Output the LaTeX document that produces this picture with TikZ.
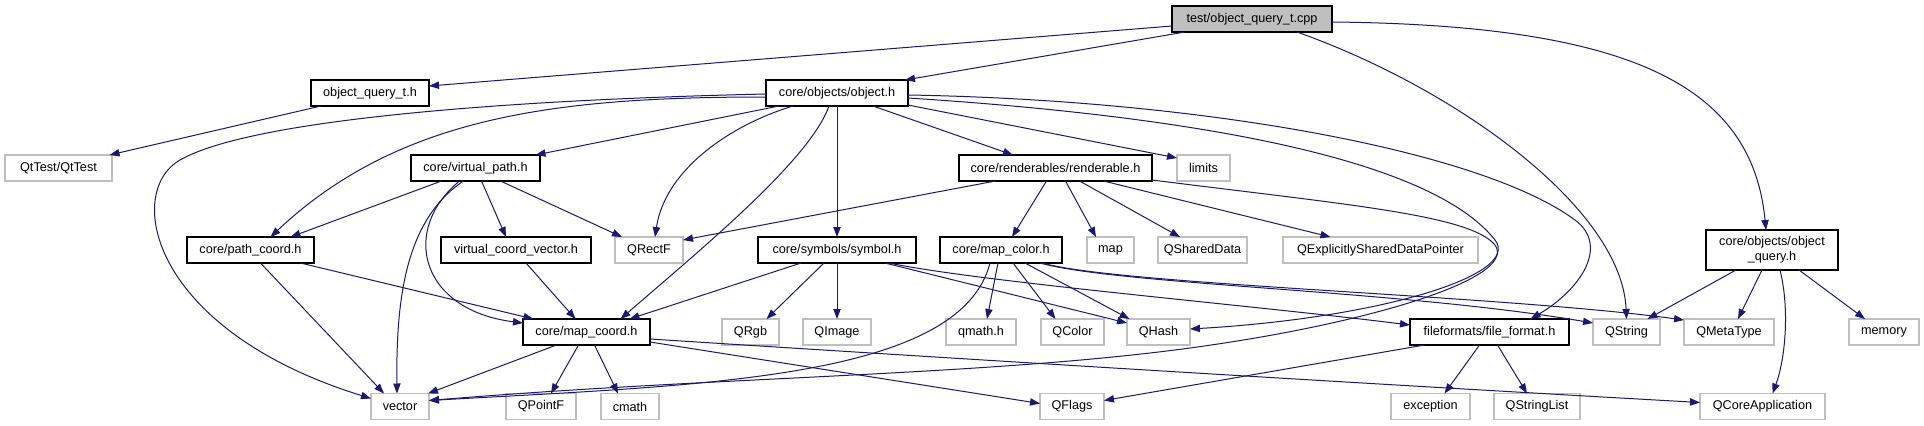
\documentclass[tikz,border=0pt]{standalone}
\usepackage{fontspec}
\setmainfont{Liberation Sans}
\usetikzlibrary{arrows.meta,calc}
\definecolor{edgeblue}{RGB}{25,25,112}
\definecolor{boxgray}{RGB}{191,191,191}

\begin{document}
\begin{tikzpicture}[x=0.75pt, y=-0.75pt,
    hdr/.style={draw=black, line width=0.8pt, minimum width=#1*0.75pt,
      minimum height=19.5pt, inner sep=0pt, font=\fontsize{9.5}{11.5}\selectfont},
    sys/.style={hdr=#1, draw=boxgray},
    root/.style={hdr=#1, fill=boxgray},
    inc/.style={edgeblue, line width=0.75pt, -{Triangle[length=7.5pt,width=5.5pt]}}]
  \useasboundingbox (0,0) rectangle (1924,425);
  % Row 0: the file itself
  \node[root=160] (cpp) at (1252,19) {test/object\_query\_t.cpp};
  % Row 1
  \node[hdr=118] (oqt)  at (370,93)  {object\_query\_t.h};
  \node[hdr=142] (objh) at (837,93)  {core/objects/object.h};
  % Row 2
  \node[sys=107] (qttest) at (58.5,168)   {QtTest/QtTest};
  \node[hdr=129] (vpath)  at (475.5,168)  {core/virtual\_path.h};
  \node[hdr=193] (rend)   at (1055.5,168) {core/renderables/renderable.h};
  \node[sys=53]  (limits) at (1203.5,168) {limits};
  % Row 3
  \node[hdr=127] (pcoord)  at (250.5,250)  {core/path\_coord.h};
  \node[hdr=150] (vcv)     at (516,250)    {virtual\_coord\_vector.h};
  \node[sys=68]  (qrectf)  at (649,250)    {QRectF};
  \node[hdr=158] (symh)    at (837,250)    {core/symbols/symbol.h};
  \node[hdr=122] (mcolor)  at (1001,250)   {core/map\_color.h};
  \node[sys=47]  (map)     at (1110.5,250) {map};
  \node[sys=89]  (qshared) at (1202.5,250) {QSharedData};
  \node[sys=195] (qexpl)   at (1380.5,250) {QExplicitlySharedDataPointer};
  \node[hdr=132, minimum height=30pt, align=center] (oqh) at (1772,250)
    {core/objects/object\\\_query.h};
  % Row 4
  \node[hdr=127] (mcoord)  at (586.5,332)  {core/map\_coord.h};
  \node[sys=57]  (qrgb)    at (750.5,332)  {QRgb};
  \node[sys=68]  (qimage)  at (837,332)    {QImage};
  \node[sys=70]  (qmath)   at (981,332)    {qmath.h};
  \node[sys=63]  (qcolor)  at (1072.5,332) {QColor};
  \node[sys=63]  (qhash)   at (1158.5,332) {QHash};
  \node[hdr=159] (ffmt)    at (1489.5,332) {fileformats/file\_format.h};
  \node[sys=67]  (qstring) at (1626.5,332) {QString};
  \node[sys=90]  (qmeta)   at (1729,332)   {QMetaType};
  \node[sys=70]  (memory)  at (1884,332)   {memory};
  % Row 5
  \node[sys=58]  (vector)    at (400,406.5)    {vector};
  \node[sys=70]  (qpointf)   at (541,406.5)    {QPointF};
  \node[sys=58]  (cmath)     at (630,406.5)    {cmath};
  \node[sys=64]  (qflags)    at (1072,406.5)   {QFlags};
  \node[sys=79]  (exception) at (1430.5,406.5) {exception};
  \node[sys=86]  (qslist)    at (1537,406.5)   {QStringList};
  \node[sys=125] (qcore)     at (1762.5,406.5) {QCoreApplication};

  % includes of the test file
  \draw[inc] ($(cpp)+(-80,7)$) -- ($(oqt)+(59,-7)$);
  \draw[inc] ($(cpp)+(-67,13)$) -- ($(objh)+(68,-13)$);
  \draw[inc] ($(cpp)+(45,13)$) .. controls (1460,90) and (1622,210) .. ($(qstring)+(0,-13)$);
  \draw[inc] ($(cpp)+(80,3)$) .. controls (1630,25) and (1752,85) .. ($(oqh)+(-6,-20)$);
  \draw[inc] ($(oqt)+(-49,13)$) -- ($(qttest)+(51,-13)$);

  % object.h
  \draw[inc] ($(objh)+(-58,13)$) -- ($(vpath)+(60,-13)$);
  \draw[inc] ($(objh)+(-71,4)$) .. controls (560,97) and (400,115) .. ($(pcoord)+(20,-13)$);
  \draw[inc] ($(objh)+(-71,1)$) .. controls (500,100) and (250,120) .. (180,160)
    .. controls (124,192) and (150,330) .. ($(vector)+(-29,-8)$);
  \draw[inc] ($(objh)+(-44,13)$) .. controls (730,125) and (665,170) .. ($(qrectf)+(6,-13)$);
  \draw[inc] ($(objh)+(-8,13)$) .. controls (810,160) and (700,250) .. ($(mcoord)+(34,-13)$);
  \draw[inc] ($(objh)+(0,13)$) -- ($(symh)+(0,-13)$);
  \draw[inc] ($(objh)+(36,13)$) -- ($(rend)+(-42.5,-13)$);
  \draw[inc] ($(objh)+(71,12)$) -- ($(limits)+(-26.5,-10)$);
  \draw[inc] ($(objh)+(71,2)$) .. controls (1200,100) and (1480,150) .. (1575,220)
    .. controls (1610,246) and (1580,290) .. ($(ffmt)+(41,-13)$);
  \draw[inc] ($(objh)+(71,5)$) .. controls (1250,120) and (1440,170) .. (1495,240)
    .. controls (1522,275) and (1380,318) .. ($(qhash)+(31.5,-3)$);

  % renderable.h
  \draw[inc] ($(rend)+(96.5,12)$) .. controls (1350,205) and (1470,215) .. (1495,245)
    .. controls (1520,280) and (1350,330) .. (1150,353)
    .. controls (950,376) and (700,378) .. ($(vector)+(29,-6)$);
  \draw[inc] ($(rend)+(-60,13)$) -- ($(qrectf)+(34,-10)$);
  \draw[inc] ($(rend)+(-9,13)$) -- ($(mcolor)+(11,-13)$);
  \draw[inc] ($(rend)+(10,13)$) -- ($(map)+(-14.5,-13)$);
  \draw[inc] ($(rend)+(24,13)$) -- ($(qshared)+(-22.5,-13)$);
  \draw[inc] ($(rend)+(48,13)$) -- ($(qexpl)+(-50,-13)$);

  % virtual_path.h
  \draw[inc] ($(vpath)+(-34,13)$) -- ($(pcoord)+(40,-13)$);
  \draw[inc] ($(vpath)+(-12,13)$) .. controls (405,220) and (396,300) .. ($(vector)+(-3,-13)$);
  \draw[inc] ($(vpath)+(-16,13)$) .. controls (400,230) and (420,310) .. ($(mcoord)+(-63.5,-9)$);
  \draw[inc] ($(vpath)+(6,13)$) -- ($(vcv)+(-10,-13)$);
  \draw[inc] ($(vpath)+(25,13)$) -- ($(qrectf)+(-27,-13)$);

  % path_coord.h, virtual_coord_vector.h
  \draw[inc] ($(pcoord)+(50,13)$) -- ($(mcoord)+(-53,-13)$);
  \draw[inc] ($(pcoord)+(10,13)$) -- ($(vector)+(-16,-13)$);
  \draw[inc] ($(vcv)+(10,13)$) -- ($(mcoord)+(-11,-13)$);

  % symbol.h
  \draw[inc] ($(symh)+(-36,13)$) -- ($(mcoord)+(43,-13)$);
  \draw[inc] ($(symh)+(-13,13)$) -- ($(qrgb)+(16,-13)$);
  \draw[inc] ($(symh)+(0,13)$) -- ($(qimage)+(0,-13)$);
  \draw[inc] ($(symh)+(48,13)$) -- ($(qhash)+(-31.5,-9)$);
  \draw[inc] ($(symh)+(52,13)$) .. controls (980,282) and (1250,305) .. ($(ffmt)+(-79.5,-7)$);

  % map_color.h
  \draw[inc] ($(mcolor)+(-11,13)$) .. controls (960,380) and (700,385) .. ($(vector)+(29,-6)$);
  \draw[inc] ($(mcolor)+(-3,13)$) -- ($(qmath)+(6,-13)$);
  \draw[inc] ($(mcolor)+(12,13)$) -- ($(qcolor)+(-17,-13)$);
  \draw[inc] ($(mcolor)+(24,13)$) -- ($(qhash)+(-29,-13)$);
  \draw[inc] ($(mcolor)+(39,13)$) .. controls (1120,285) and (1400,290) .. ($(qstring)+(-33.5,-9)$);
  \draw[inc] ($(mcolor)+(41,13)$) .. controls (1120,285) and (1500,295) .. ($(qmeta)+(-45,-12)$);

  % map_coord.h
  \draw[inc] ($(mcoord)+(-30,13)$) -- ($(vector)+(28,-13)$);
  \draw[inc] ($(mcoord)+(-8,13)$) -- ($(qpointf)+(10,-13)$);
  \draw[inc] ($(mcoord)+(8,13)$) -- ($(cmath)+(-12,-13)$);
  \draw[inc] ($(mcoord)+(63.5,10)$) -- ($(qflags)+(-32,-3)$);
  \draw[inc] ($(mcoord)+(63.5,7)$) .. controls (900,355) and (1300,380) .. ($(qcore)+(-62.5,-4)$);

  % file_format.h
  \draw[inc] ($(ffmt)+(-65,13)$) -- ($(qflags)+(32,-6)$);
  \draw[inc] ($(ffmt)+(-10,13)$) -- ($(exception)+(14,-13)$);
  \draw[inc] ($(ffmt)+(8,13)$) -- ($(qslist)+(-10,-13)$);

  % object_query.h
  \draw[inc] ($(oqh)+(-36,20)$) -- ($(qstring)+(21,-13)$);
  \draw[inc] ($(oqh)+(-10,20)$) -- ($(qmeta)+(9,-13)$);
  \draw[inc] ($(oqh)+(8,20)$) .. controls (1790,310) and (1785,360) .. ($(qcore)+(10,-13)$);
  \draw[inc] ($(oqh)+(27,20)$) -- ($(memory)+(-19,-13)$);
\end{tikzpicture}
\end{document}
